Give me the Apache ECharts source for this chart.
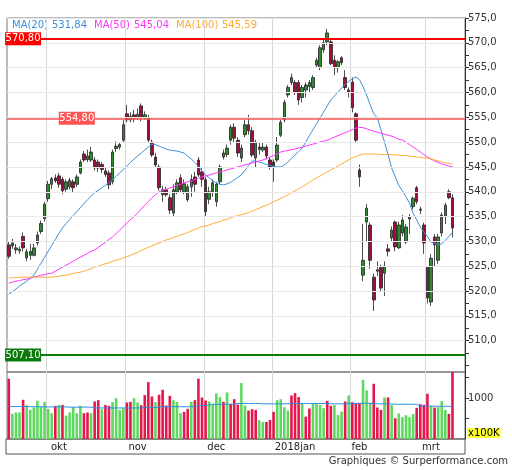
<!DOCTYPE html>
<html><head><meta charset="utf-8">
<script src="https://cdn.jsdelivr.net/npm/echarts@6/dist/echarts.min.js"></script>
<style>html,body{margin:0;padding:0;background:#fff}#c{width:512px;height:470px}</style>
</head><body><div id="c"></div>
<script>
const opens=[529.3,529.1,528.3,528.1,531,526.7,527.2,527.2,529.7,532,534.6,538.6,541.5,542.8,543.2,542.5,540.5,541,542,541.5,543.8,547.6,546.5,546.4,546.4,546,545.5,544.2,543.8,542,548.7,549,550.4,555.7,554.5,555.5,554.9,557.3,554.9,554.9,550,547,545,539.4,540.4,538.8,535.7,540,542.8,540,538.4,541,543,546.4,544,542.4,538.5,540,538,542,547,547.5,550.4,553,550.4,546.8,551.5,553.5,552.3,546.8,549,548.4,549,546.4,546,546.4,551.4,554.5,559.5,562,562,562,559,560.5,561.2,561,565.5,565,568.6,570.2,570.2,566.5,565,567,563,560.5,562.1,555.7,544.4,523.2,533.9,533.3,522.8,524,524.8,523.6,528.5,530.7,533.9,528.7,531.7,529.9,534.5,537,540.8,536.5,533.3,524.8,517.8,530.9,526.2,531.7,535,540,538.8];
const closes=[527,529.7,528.7,528.4,528.7,527.9,528,528.7,531.3,533.6,537.5,541.5,542.6,542.2,541.5,540.2,542,542.3,540.8,543,546,546.4,547.2,548,544.8,544.8,544.5,543.5,541.4,548,549.2,549.5,553.5,554.5,555.2,554.8,555.6,554.9,555.5,550.4,547.4,545.4,540.8,540.4,539.4,536.3,540.4,541.8,540.4,541.6,541,542.5,541.5,543.4,542.5,536,540,541.8,541.5,545,547.8,548.8,553,550.8,547.8,548.8,553.5,552.3,547.4,550,548.5,549,547.2,545,545.2,549.4,554,558,561,563,560,558.5,561,561.5,562,563,566.5,569,570,572,565.8,565,566.2,566,561,560,556.9,550.4,543,526.2,536.7,526.2,518.2,524.3,520.6,525,528,532.3,528.9,533.3,534.3,532.9,535,538.7,538,536.3,529.7,518.6,526.6,529.3,530.9,535.3,537.3,538.8,532.7];
const lows=[526.5,528.5,527.5,527.5,528,526,526.3,527,529.2,531.5,534,538,540.5,541.8,540.8,539.5,540,540.5,539.8,541,543.5,546,546,546,544.3,544,543.8,543,540.5,541.5,548,548.5,550,554,554,554,554.5,554.2,554.5,550,547,545,540.2,538,539,535.5,535,539.5,539.8,539.5,538,539,540,543,541,535,537.5,539,537,541.5,546.5,547,549.5,550,547,546,551,551.5,547,545,547.5,548,546.5,544.5,542,546,551,554,559,561.5,559.5,557.5,558,559,560,560.5,565,564.5,568,569.5,565.5,563.5,564,565.5,560.5,559,556,549.8,541,522,530,524.5,516,523,520,519,527,530,528,528.5,531,529.5,531.5,536.5,537.5,535.5,527.5,517.5,517,525,525.5,531,533.5,538.5,530.8];
const highs=[530,530.5,529.5,529,531.8,528.5,529.5,529.5,532,534.2,538,542.2,543,543.5,543.8,543,542.5,542.8,542.5,543.5,546.5,548.2,548.5,549,547,546.5,546,545,544.3,548.5,550.2,550,554.5,557.5,556,556.5,556.8,557.8,556.2,555.5,550.5,547.8,545.5,541.2,541,539.5,541.5,542.5,543.5,542.5,541.5,543.5,544,547,545,543,541,542.5,542,545.5,548.5,549.5,553.5,553.8,551,549.5,554.5,555.5,553,550.5,549.8,550,549.5,547,546.5,551,554.5,558.5,561.5,563.8,562.5,562.5,561.5,562,562.5,563.5,567,569.5,571,572.8,571,567.5,566.5,567.3,564.5,561,563,556,545.5,533.5,537.5,533.8,523.5,526,525.3,526,529.5,533,534.2,534,535.3,533.5,535.5,539,541.2,537,533.8,525,527.5,531.5,531.5,535.8,537.8,540.5,539.5];
const ma20=[519.4,519.9,520.4,521,521.5,522,522.6,523.2,524.4,525.6,526.8,528,529.2,530.4,531.6,532.7,533.6,534.4,535.2,536,536.8,537.6,538.4,539.1,539.8,540.3,540.8,541.3,541.9,542.4,543.1,543.8,544.5,545.2,545.9,546.6,547.2,547.8,548.4,549,549.6,549.5,549.2,548.9,548.6,548.4,548.3,548.2,548,547.8,547.2,546.6,545.9,545.1,544.2,543.4,542.8,542.2,541.8,541.5,541.4,541.6,541.9,542.4,542.9,543.4,544.3,545.3,546.2,546.2,546,545.8,545.5,545.3,545.1,545,545,545.4,546,546.7,547.4,548.1,548.8,550,551.3,552.5,553.7,554.9,556.1,557.3,558.5,559.3,560.1,560.9,561.6,562.2,562.8,563.1,562.6,561.2,559.5,557.5,555.7,554.9,552.5,550,547.5,544.8,543,541.3,540.2,539,537.7,535.7,534.3,532.9,531.9,531,529.9,529.6,529.4,529.5,530.2,531,531.84];
const ma50=[521.6,521.8,522,522.1,522.3,522.4,522.6,522.8,523,523.2,523.3,523.5,523.6,524,524.4,524.8,525.2,525.6,526,526.4,526.8,527.2,527.6,528,528.3,528.8,529.3,529.8,530.4,530.9,531.6,532.3,533,533.7,534.4,535,535.7,536.5,537.3,538,538.8,539.4,540,540.3,540.5,540.8,541,541.3,541.5,541.8,542,542.2,542.5,542.7,543,543.2,543.4,543.6,543.8,544,544.2,544.4,544.6,544.8,545,545.2,545.4,545.6,545.8,546,546.2,546.4,546.7,547,547.3,547.6,548,548.2,548.3,548.5,548.6,548.8,549,549.2,549.4,549.6,549.8,550,550.2,550.4,550.7,551,551.3,551.6,551.9,552.2,552.5,552.8,553,552.9,552.7,552.4,552.2,552,551.8,551.6,551.4,551.2,550.9,550.6,550.4,550,549.5,549,548.5,548,547.5,547,546.6,546.2,545.9,545.6,545.4,545.2,545.04];
const ma100=[522.6,522.7,522.7,522.8,522.8,522.8,522.8,522.8,522.8,522.8,522.8,522.8,522.8,522.9,523,523.1,523.2,523.4,523.5,523.7,523.8,524,524.3,524.5,524.8,525,525.3,525.5,525.7,526,526.2,526.4,526.7,526.9,527.2,527.5,527.8,528.2,528.5,528.8,529.1,529.4,529.7,530,530.3,530.5,530.8,531,531.3,531.5,531.8,532.1,532.4,532.7,533,533.1,533.3,533.6,533.8,534,534.3,534.5,534.7,535,535.2,535.4,535.6,535.8,536.1,536.4,536.7,537,537.3,537.6,538,538.3,538.7,539,539.4,539.8,540.2,540.6,541,541.4,541.9,542.4,542.8,543.2,543.6,544,544.4,544.8,545.2,545.6,546,546.4,546.8,547.1,547.4,547.6,547.6,547.6,547.6,547.6,547.5,547.5,547.5,547.5,547.4,547.4,547.3,547.3,547.2,547.1,547,546.9,546.8,546.8,546.6,546.4,546.2,546,545.9,545.7,545.59];
const volumes=[1475,615,650,650,960,835,713,770,934,795,910,738,631,811,835,835,574,648,779,631,811,631,648,631,918,951,730,835,811,902,1000,713,754,893,910,1000,893,828,1074,1393,1041,902,1082,1205,820,1057,951,910,631,664,738,910,951,1475,1016,943,918,861,1115,1025,910,1139,861,975,844,1369,820,697,730,713,459,418,418,467,664,951,975,779,697,1066,1123,1025,877,549,746,877,877,835,754,934,811,835,590,672,918,1066,902,877,877,1451,1189,893,1352,770,713,1016,1016,835,508,623,533,582,533,615,762,852,835,1107,811,770,779,926,713,615,1655];
const volUp="rggg rggggggggrgrgggggrrgrrgrrggggrrggrrrrgrrrrgggrrgrrrrggggrgrrrggrrrggrrrggggrrrgrrggggrrgggrgrrrgggrrrgrgrgggggrrrrgrgggrr".replace(/ /g,'');
const volMA=[795,795,795,795,795,795,790,790,790,790,785,785,785,785,785,785,785,780,780,780,780,780,780,780,760,760,760,760,760,760,760,760,760,760,760,760,760,760,770,770,770,770,790,790,790,790,790,790,790,790,790,790,790,820,820,820,830,850,850,850,850,850,850,850,870,870,870,870,870,870,870,860,860,860,860,860,860,860,865,870,870,870,870,870,870,870,870,870,870,870,860,860,860,860,860,870,870,870,875,875,875,870,870,860,860,860,860,860,850,850,850,850,850,850,850,805,805,805,805,805,800,800,800,800,800];
const monthStarts=[11,33,55,74,96,117];
const monthLabels={14:'okt',36:'nov',58:'dec',80:'2018jan',98:'feb',118:'mrt'};
const priceTicks=[510,515,520,525,530,535,540,545,550,555,560,565,570,575];
const levels=[{v:570.80,t:'570,80',c:'#ff0000',w:2,at:4},{v:554.80,t:'554,80',c:'#ff5555',w:1.5,at:19},{v:507.10,t:'507,10',c:'#0a7a0a',w:2,at:4}];
const legendItems=[['MA(20)','531,84','#3a8fd8'],['MA(50)','545,04','#ff33ff'],['MA(100)','545,59','#ffaa33']];

const N=128;
const cats=[];for(let i=0;i<N;i++)cats.push(String(i));
const candle=opens.map((o,i)=>[o,closes[i],lows[i],highs[i]]);
const volData=volumes.map((v,i)=>({value:v,itemStyle:{color:volUp[i]==='g'?'#5fd85f':'#e5164c'}}));
const fmt=v=>v.toFixed(1).replace('.',',');
const minorTicks=[];for(let v=505;v<=575;v+=2.5)minorTicks.push(v);
const chart=echarts.init(document.getElementById('c'));
const L=7,R=47;
const splitFn=(i)=>monthStarts.includes(i);
const gridLineMarks=priceTicks.map(v=>({yAxis:v}));
chart.setOption({
  animation:false,
  grid:[{left:L,right:R,top:18,height:354,show:true,borderColor:'#777',borderWidth:1},
        {left:L,right:R,top:372,height:67,show:true,borderColor:'#777',borderWidth:1}],
  xAxis:[
    {type:'category',gridIndex:0,data:cats,boundaryGap:true,axisLine:{show:false},axisTick:{show:false},axisLabel:{show:false},
     splitLine:{show:true,interval:(i)=>splitFn(i),lineStyle:{color:'#d8d8d8',width:1}}},
    {type:'category',gridIndex:1,data:cats,boundaryGap:true,axisLine:{show:false},axisTick:{show:false},
     splitLine:{show:true,interval:(i)=>splitFn(i),lineStyle:{color:'#d8d8d8',width:1}},
     axisLabel:{show:true,interval:(i)=>monthLabels[i]!==undefined,formatter:(v,i)=>monthLabels[i]||'',color:'#222',fontSize:10,fontFamily:'DejaVu Sans',margin:3}}
  ],
  yAxis:[
    {type:'value',gridIndex:0,position:'right',min:503.7,max:575,scale:true,
     axisLine:{show:true,lineStyle:{color:'#333'}},
     axisTick:{show:true,customValues:minorTicks,length:4,lineStyle:{color:'#333'}},
     axisLabel:{customValues:priceTicks,formatter:v=>fmt(v),color:'#333',fontSize:10,fontFamily:'DejaVu Sans',margin:3},
     splitLine:{show:false}},
    {type:'value',gridIndex:1,position:'right',min:0,max:1640,
     axisLine:{show:true,lineStyle:{color:'#333'}},
     axisTick:{show:true,customValues:[500,1000,1500],length:4,lineStyle:{color:'#333'}},
     axisLabel:{customValues:[1000],formatter:v=>String(v),color:'#333',fontSize:10,fontFamily:'DejaVu Sans',margin:3},
     splitLine:{show:false}}
  ],
  series:[
    {type:'candlestick',xAxisIndex:0,yAxisIndex:0,data:candle,barWidth:3,
     itemStyle:{color:'#2e8b2e',color0:'#a0103c',borderColor:'#222',borderColor0:'#222',borderWidth:0.8},
     markLine:{silent:true,symbol:'none',label:{show:false},lineStyle:{color:'#e8e8e8',width:1,type:'solid'},data:gridLineMarks},
     z:3},
    {type:'line',name:'MA(20)',data:ma20,showSymbol:false,lineStyle:{color:'#3a8fd8',width:1},z:4},
    {type:'line',name:'MA(50)',data:ma50,showSymbol:false,lineStyle:{color:'#ff33ff',width:1},z:4},
    {type:'line',name:'MA(100)',data:ma100,showSymbol:false,lineStyle:{color:'#ffaa33',width:1},z:4,
     markLine:{silent:true,symbol:'none',label:{show:false},data:levels.map(l=>({yAxis:l.v,lineStyle:{color:l.c,width:l.w,type:'solid'}}))},
     markPoint:{silent:true,data:levels.map(l=>({coord:[l.at,l.v],symbol:'rect',symbolSize:[36,13],itemStyle:{color:l.c},
       label:{show:true,formatter:l.t,color:'#fff',fontSize:10,fontFamily:'DejaVu Sans'}}))}},
    {type:'bar',xAxisIndex:1,yAxisIndex:1,data:volData,barWidth:2.6},
    {type:'line',xAxisIndex:1,yAxisIndex:1,data:volMA,step:'middle',showSymbol:false,lineStyle:{color:'#2a8fe0',width:1},z:5}
  ],
  graphic:[
    ...(()=>{const g=[];let x=12;legendItems.forEach(it=>{g.push({type:'text',left:x,top:20,style:{text:it[0],fill:it[2],font:'10px DejaVu Sans'}});x+=it[0].length*6+4;g.push({type:'text',left:x,top:20,style:{text:it[1],fill:it[2],font:'10px DejaVu Sans'}});x+=42;});return g;})(),
    {type:'text',left:467,top:428,style:{text:'x100K',fill:'#000',font:'10px DejaVu Sans',backgroundColor:'#ffff33',padding:[0,1]}},
    {type:'rect',shape:{x:6,y:439,width:459,height:15},style:{fill:'none',stroke:'#555',lineWidth:1}},
    {type:'text',right:4,top:456,style:{text:'Graphiques © Surperformance.com',fill:'#333',font:'10px DejaVu Sans'}}
  ]
});
</script></body></html>
